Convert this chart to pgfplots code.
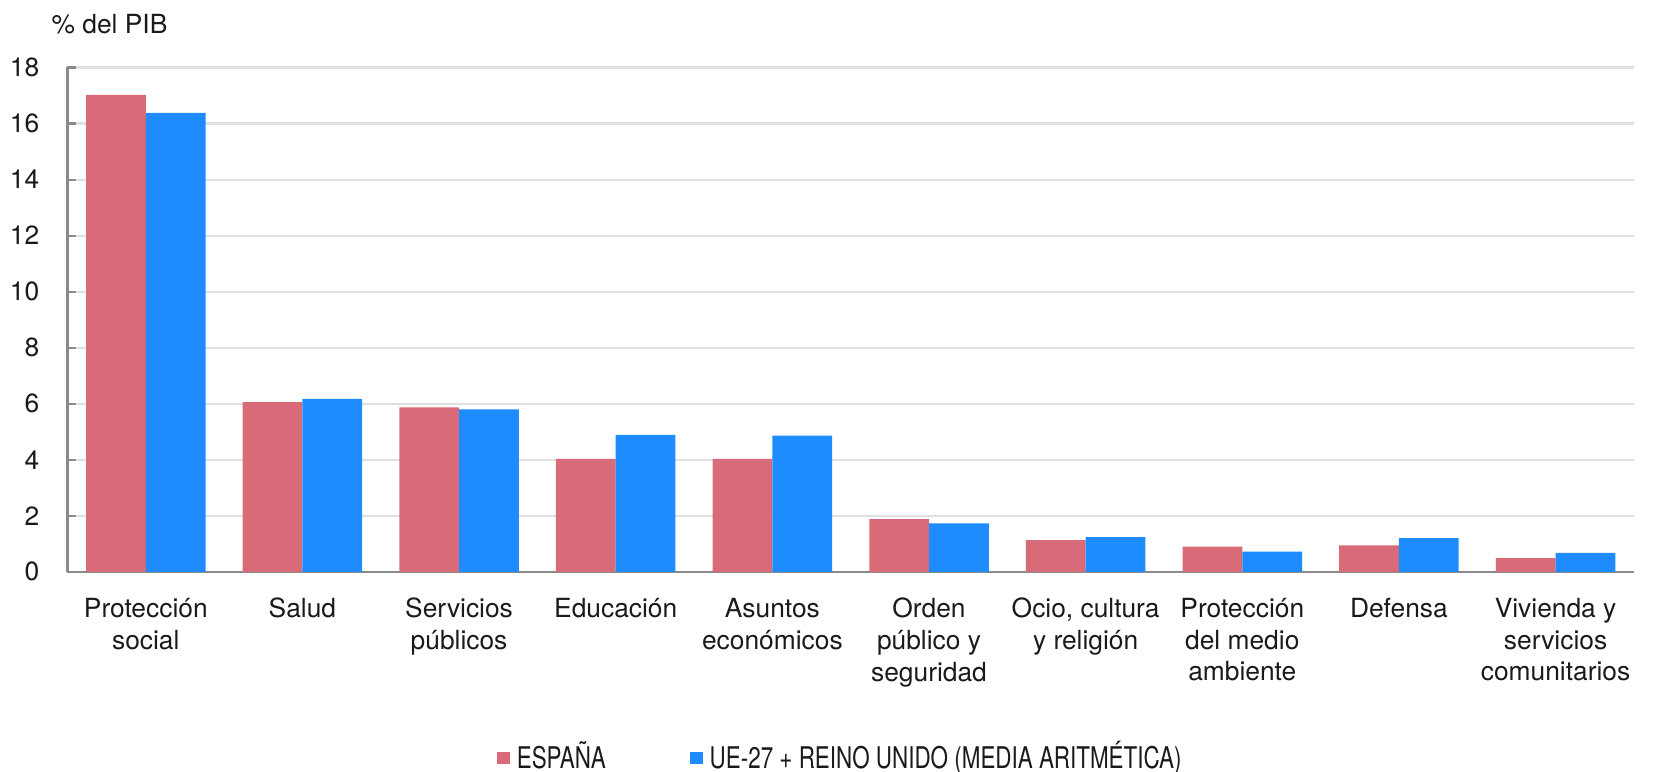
\documentclass[border=0pt]{standalone}
\usepackage{fontspec}
\setmainfont{TeX Gyre Heros}
\usepackage{graphicx}
\usepackage{pgfplots}
\pgfplotsset{compat=1.18}
\definecolor{espana}{HTML}{D96B78}
\definecolor{ue}{HTML}{1E8CFF}
\definecolor{axisgray}{HTML}{8A8A8A}
\definecolor{gridgray}{HTML}{E0E0E0}
\definecolor{txt}{HTML}{1A1A1A}

\begin{document}
\begin{tikzpicture}
\begin{axis}[
    scale only axis,
    width=445.7pt, height=143.5pt,
    ybar=0pt, bar width=17pt,
    xmin=-0.5, xmax=9.5,
    ymin=0, ymax=18,
    ytick={0,2,...,18},
    xtick={0,...,9},
    xticklabels={{Protección\\social},Salud,{Servicios\\públicos},Educación,
        {Asuntos\\económicos},{Orden\\público y\\seguridad},{Ocio, cultura\\y religión},
        {Protección\\del medio\\ambiente},Defensa,{Vivienda y\\servicios\\comunitarios}},
    major x tick style={draw=none},
    extra x ticks={0.5,1.5,...,8.5},
    extra x tick labels={},
    extra x tick style={grid=none, major tick length=4pt, tick style={draw=axisgray}},
    axis lines*=left,
    axis line style={-, draw=axisgray, line width=0.6pt},
    tick align=inside,
    major tick length=2.5pt,
    y tick style={draw=axisgray, line width=0.6pt},
    ymajorgrids, grid style={gridgray, line width=0.6pt},
    xticklabel style={align=center, font=\fontsize{7.5}{9}\selectfont, text=txt, yshift=-4pt},
    yticklabel style={font=\fontsize{7.5}{9}\selectfont, text=txt, xshift=-4.5pt,
        /pgf/number format/assume math mode=true},
    legend columns=2,
    legend style={at={(0.495,-0.369)}, anchor=center, draw=none, fill=none,
        font=\fontsize{8.5}{10}\selectfont, text=txt,
        /tikz/every even column/.append style={column sep=22pt}},
]
\coordinate (O) at (rel axis cs:0,0);
\coordinate (T) at (rel axis cs:0,1);
\addplot[fill=espana, draw=none,
    legend image code/.code={\fill[espana] (0pt,-1.8pt) rectangle (3.6pt,1.8pt);}]
    coordinates {(0,17.02) (1,6.06) (2,5.87) (3,4.03) (4,4.03) (5,1.88) (6,1.13) (7,0.90) (8,0.94) (9,0.49)};
\addplot[fill=ue, draw=none,
    legend image code/.code={\fill[ue] (0pt,-1.8pt) rectangle (3.6pt,1.8pt);}]
    coordinates {(0,16.38) (1,6.17) (2,5.80) (3,4.89) (4,4.86) (5,1.73) (6,1.24) (7,0.72) (8,1.20) (9,0.68)};
\legend{\scalebox{0.75}[1]{ESPAÑA}, \scalebox{0.75}[1]{UE-27 + REINO UNIDO (MEDIA ARITMÉTICA)}}
\end{axis}
\node[anchor=base west, font=\fontsize{7.5}{9}\selectfont, text=txt, inner sep=0pt]
    at ([shift={(-4.7pt,9.8pt)}]T) {\% del PIB};
\pgfresetboundingbox
\path ([shift={(-19.2pt,-56.9pt)}]O) rectangle ([shift={(451.7pt,162.7pt)}]O);
\end{tikzpicture}
\end{document}
